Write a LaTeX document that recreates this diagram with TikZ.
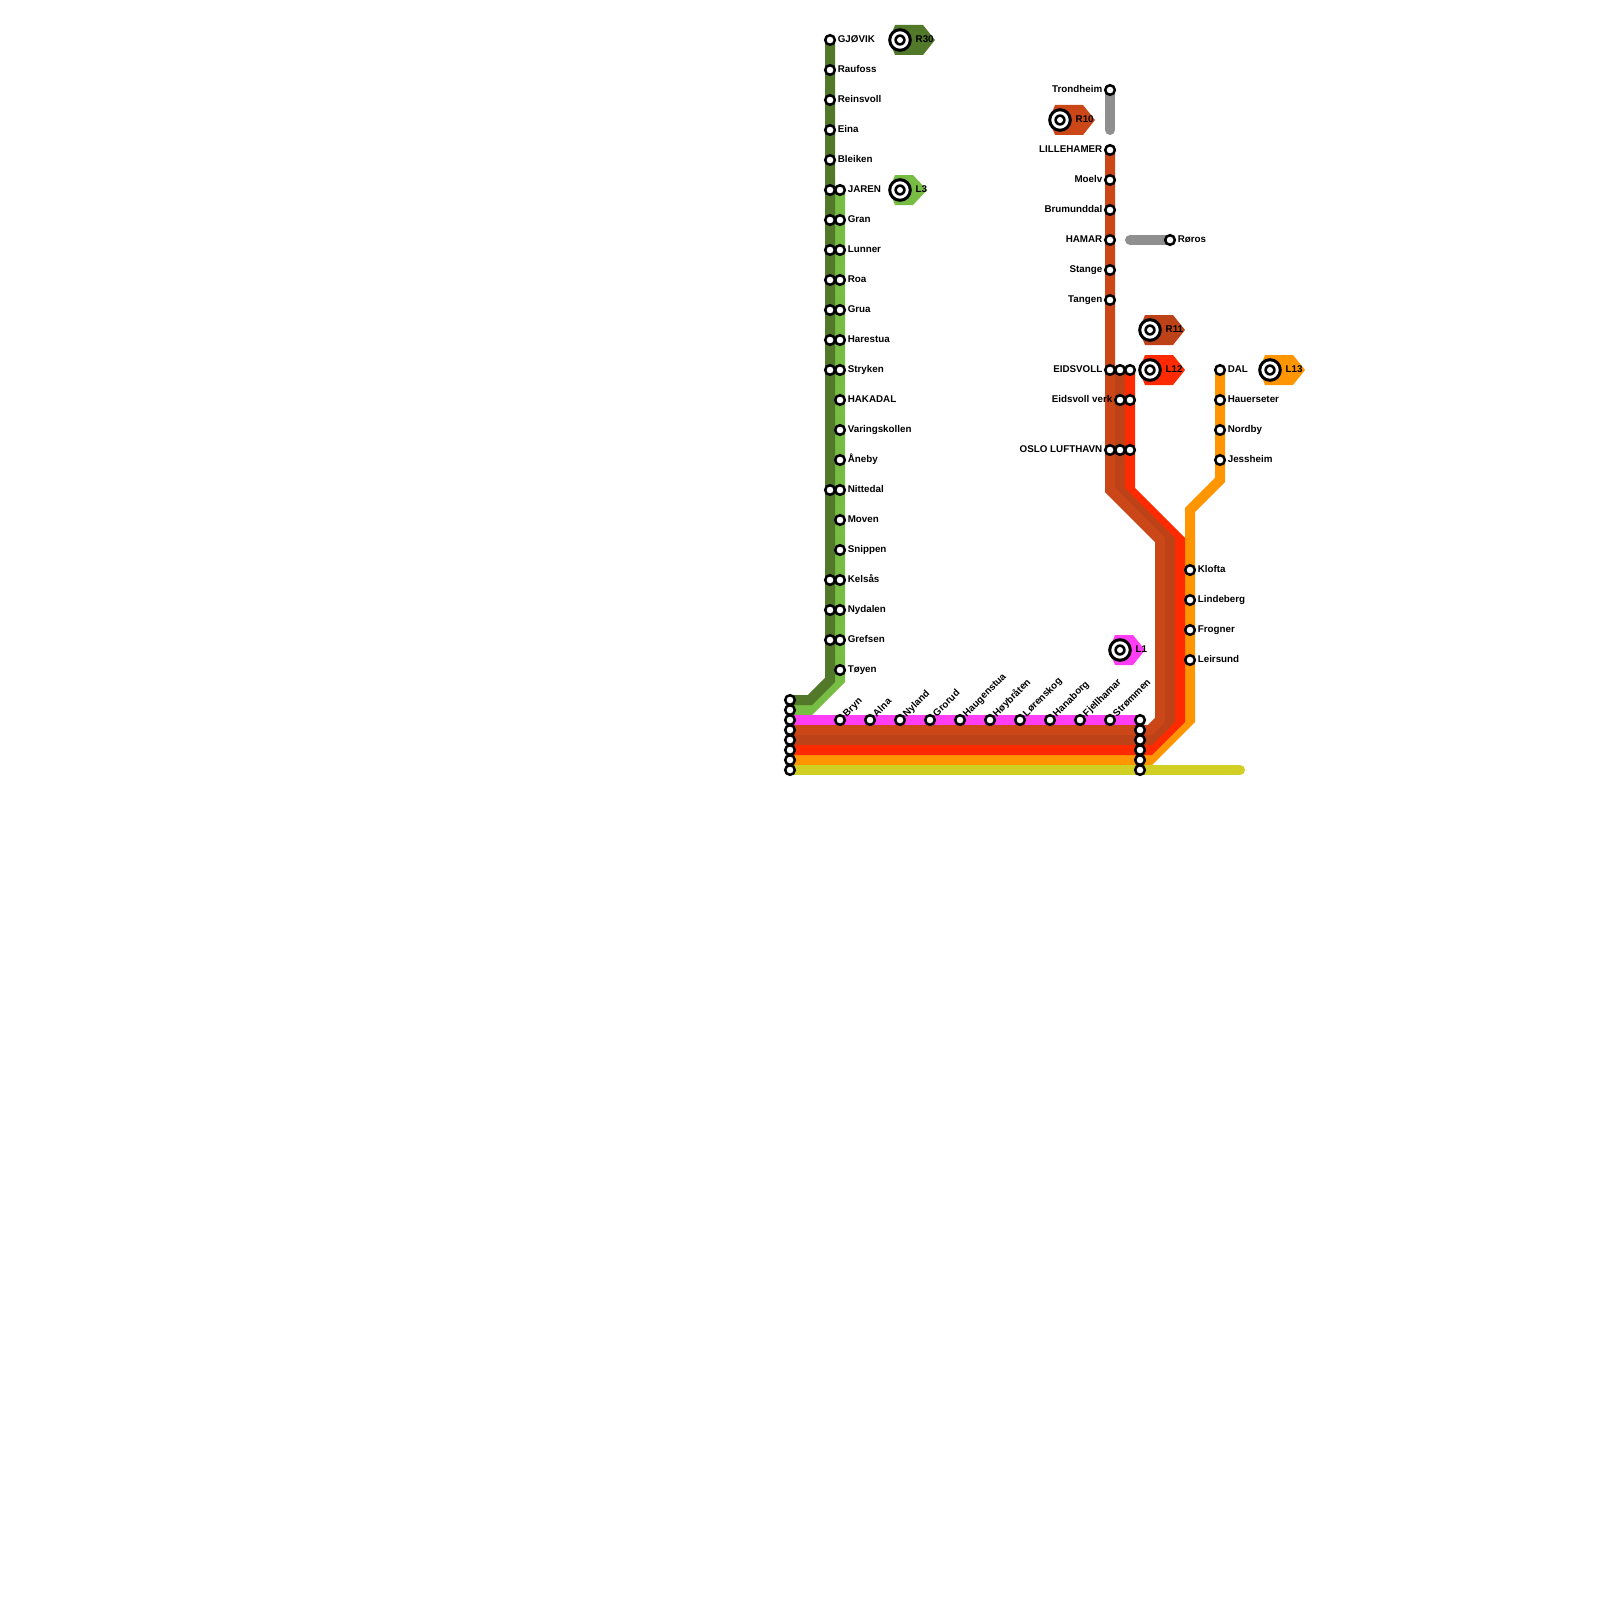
\documentclass[tikz,border=0pt]{standalone}
\usepackage{fontspec}
\setmainfont{Liberation Sans}
\usetikzlibrary{backgrounds}
\definecolor{cRten}{HTML}{CB4718}
\definecolor{cReleven}{HTML}{BD4218}
\definecolor{cLtwelve}{HTML}{FF2A00}
\definecolor{cLthirteen}{HTML}{FF9500}
\definecolor{cLone}{HTML}{FF3DF5}
\definecolor{cYel}{HTML}{D2CF24}
\definecolor{cRthirty}{HTML}{52792A}
\definecolor{cLthree}{HTML}{77BC43}
\definecolor{cGrey}{HTML}{8F8F8F}
\tikzset{
  x=1pt,y=-1pt,
  stop/.style={circle,draw=black,fill=white,line width=2.5pt,minimum size=9.6pt,inner sep=0pt},
  lab/.style={font=\bfseries\fontsize{9.8}{11}\selectfont,text=black,inner sep=0pt,text height=7pt,text depth=2pt},
  labr/.style={lab,anchor=west},
  labl/.style={lab,anchor=east},
  labt/.style={lab,anchor=west,rotate=45},
  ln/.style={line width=10pt,line join=miter,line cap=butt},
  rnd/.style={line width=10pt,line cap=round},
  target/.style={circle,draw=black,fill=white,line width=3pt,minimum size=20.6pt,inner sep=0pt,
    path picture={\fill[black] (path picture bounding box.center) circle (5.7pt);
                  \fill[white] (path picture bounding box.center) circle (3pt);}},
}
\newcommand{\signbg}[5]{% x y colour topright tip
  \fill[#3] (#1-5,#2-15) -- (#1+#4,#2-15) -- (#1+#5,#2) -- (#1+#4,#2+15) -- (#1-5,#2+15) -- (#1-11,#2) -- cycle;
}
\begin{document}
\begin{tikzpicture}
\useasboundingbox (0,0) rectangle (1600,1600);
% --- signs
\signbg{900}{40}{cRthirty}{23}{35}
\signbg{900}{190}{cLthree}{13}{27}
\signbg{1060}{120}{cRten}{23}{35}
\signbg{1150}{330}{cReleven}{23}{35}
\signbg{1150}{370}{cLtwelve}{23}{35}
\signbg{1270}{370}{cLthirteen}{23}{35}
\signbg{1120}{650}{cLone}{13}{25}
\foreach \n/\x/\y/\t in {RthirtyS/900/40/R30,LthreeS/900/190/L3,RtenS/1060/120/R10,RelevenS/1150/330/R11,LtwelveS/1150/370/L12,LthirteenS/1270/370/L13,LoneS/1120/650/L1}{
  \node[target] (\n) at (\x,\y) {};
  \node[labr] (\n-t) at (\x+15.5,\y) {\t};
}
% --- R30 column
\foreach \n/\y/\t in {gjo/40/GJØVIK,rau/70/Raufoss,rei/100/Reinsvoll,ein/130/Eina,ble/160/Bleiken}{
  \node[stop] (\n) at (830,\y) {};
  \node[labr] (\n-t) at (837.6,\y) {\t};
}
\foreach \n/\y in {a/190,b/220,c/250,d/280,e/310,f/340,g/370,h/490,i/580,j/610,k/640}{
  \node[stop] (r\n) at (830,\y) {};
}
% --- L3 column
\foreach \n/\y/\t in {jar/190/JAREN,gra/220/Gran,lun/250/Lunner,roa/280/Roa,gru/310/Grua,har/340/Harestua,str/370/Stryken,hak/400/HAKADAL,var/430/Varingskollen,ane/460/Åneby,nit/490/Nittedal,mov/520/Moven,sni/550/Snippen,kel/580/Kelsås,nyd/610/Nydalen,gre/640/Grefsen,toy/670/Tøyen}{
  \node[stop] (\n) at (840,\y) {};
  \node[labr] (\n-t) at (847.6,\y) {\t};
}
% --- left and right terminal stacks
\foreach \y in {700,710,720,730,740,750,760,770}{ \node[stop] (w\y) at (790,\y) {}; }
\foreach \y in {720,730,740,750,760,770}{ \node[stop] (e\y) at (1140,\y) {}; }
% --- trunk stations
\foreach \n/\x/\t in {bry/840/Bryn,aln/870/Alna,nyl/900/Nyland,gror/930/Grorud,hau/960/Haugenstua,hoy/990/Høybråten,lor/1020/Lørenskog,han/1050/Hanaborg,fje/1080/Fjellhamar,stm/1110/Strømmen}{
  \node[stop] (\n) at (\x,720) {};
  \node[labt] (\n-t) at (\x+5,715.5) {\t};
}
% --- Dovre line
\foreach \n/\y/\t in {tro/90/Trondheim,lil/150/LILLEHAMER,moe/180/Moelv,bru/210/Brumunddal,ham/240/HAMAR,sta/270/Stange,tan/300/Tangen,eid/370/EIDSVOLL,osl/450/OSLO LUFTHAVN}{
  \node[stop] (\n) at (1110,\y) {};
  \node[labl] (\n-t) at (1102.5,\y) {\t};
}
\node[stop] (eidb) at (1120,370) {};
\node[stop] (eidc) at (1130,370) {};
\node[stop] (ver) at (1120,400) {};
\node[labl] (ver-t) at (1112.5,400) {Eidsvoll verk};
\node[stop] (verc) at (1130,400) {};
\node[stop] (oslb) at (1120,450) {};
\node[stop] (oslc) at (1130,450) {};
\node[stop] (ror) at (1170,240) {};
\node[labr] (ror-t) at (1177.6,240) {Røros};
\foreach \n/\x/\y/\t in {dal/1220/370/DAL,hae/1220/400/Hauerseter,nor/1220/430/Nordby,jes/1220/460/Jessheim,klo/1190/570/Klofta,lin/1190/600/Lindeberg,fro/1190/630/Frogner,lei/1190/660/Leirsund}{
  \node[stop] (\n) at (\x,\y) {};
  \node[labr] (\n-t) at (\x+7.6,\y) {\t};
}
% --- bend and end points
\coordinate (rb1) at (830,680); \coordinate (rb2) at (810,700);
\coordinate (lb1) at (840,680); \coordinate (lb2) at (810,710);
\coordinate (a1) at (1110,490); \coordinate (a2) at (1160,540); \coordinate (a3) at (1160,720); \coordinate (a4) at (1150,730);
\coordinate (b1) at (1120,490); \coordinate (b2) at (1170,540); \coordinate (b3) at (1170,720); \coordinate (b4) at (1150,740);
\coordinate (c1) at (1130,490); \coordinate (c2) at (1180,540); \coordinate (c3) at (1180,720); \coordinate (c4) at (1150,750);
\coordinate (d1) at (1220,480); \coordinate (d2) at (1190,510); \coordinate (d3) at (1190,720); \coordinate (d4) at (1150,760);
\coordinate (greyA) at (1110,130); \coordinate (greyB) at (1130,240); \coordinate (yelE) at (1240,770);
% --- lines, under the stations and signs
\begin{scope}[on background layer]
  \draw[ln,cLthree] (jar.center) -- (lb1) -- (lb2) -- (w710.center);
  \draw[ln,cRthirty] (gjo.center) -- (rb1) -- (rb2) -- (w700.center);
  \draw[rnd,cGrey] (tro.center) -- (greyA);
  \draw[rnd,cGrey] (greyB) -- (ror.center);
  \draw[ln,cLthirteen] (dal.center) -- (d1) -- (d2) -- (d3) -- (d4) -- (e760.center) -- (w760.center);
  \draw[ln,cLtwelve] (eidc.center) -- (c1) -- (c2) -- (c3) -- (c4) -- (e750.center) -- (w750.center);
  \draw[ln,cReleven] (eidb.center) -- (b1) -- (b2) -- (b3) -- (b4) -- (e740.center) -- (w740.center);
  \draw[ln,cRten] (lil.center) -- (a1) -- (a2) -- (a3) -- (a4) -- (e730.center) -- (w730.center);
  \draw[ln,cLone] (w720.center) -- (e720.center);
  \draw[rnd,cYel] (w770.center) -- (yelE);
\end{scope}
\end{tikzpicture}
\end{document}
